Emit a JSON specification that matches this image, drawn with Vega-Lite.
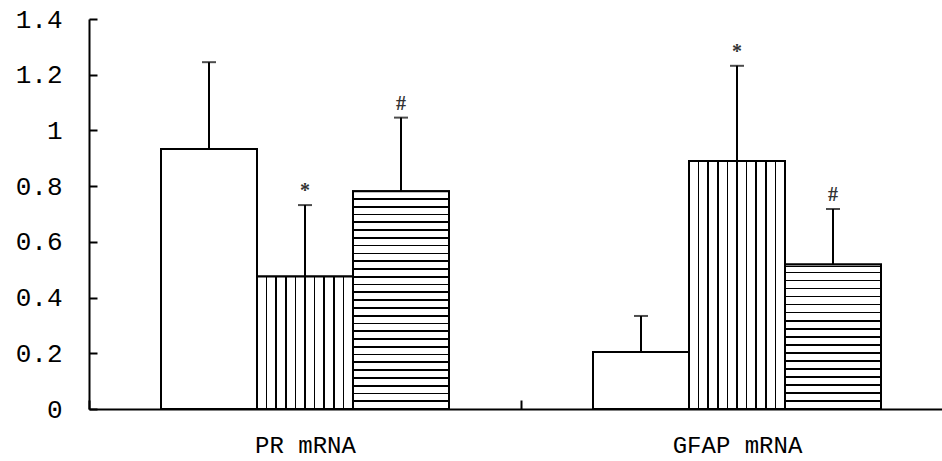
{
  "$schema": "https://vega.github.io/schema/vega-lite/v6.json",
  "width": 853,
  "height": 390,
  "autosize": {"type": "none"},
  "padding": {"left": 89, "top": 19, "right": 0, "bottom": 52},
  "background": "white",
  "config": {
    "view": {"stroke": null},
    "axis": {"domainColor": "black", "tickColor": "black", "labelColor": "black", "domainWidth": 2, "tickWidth": 2, "labelFont": "Liberation Mono", "grid": false}
  },
  "data": {
    "values": [
      {"gene": "PR mRNA", "group": "Control", "mean": 0.933, "upper": 1.245, "sig": ""},
      {"gene": "PR mRNA", "group": "Model", "mean": 0.476, "upper": 0.732, "sig": "*"},
      {"gene": "PR mRNA", "group": "Treatment", "mean": 0.782, "upper": 1.046, "sig": "#"},
      {"gene": "GFAP mRNA", "group": "Control", "mean": 0.205, "upper": 0.334, "sig": ""},
      {"gene": "GFAP mRNA", "group": "Model", "mean": 0.89, "upper": 1.232, "sig": "*"},
      {"gene": "GFAP mRNA", "group": "Treatment", "mean": 0.519, "upper": 0.718, "sig": "#"}
    ]
  },
  "encoding": {
    "x": {"field": "gene", "type": "nominal", "sort": ["PR mRNA", "GFAP mRNA"],
      "scale": {"range": [0, 864], "paddingInner": 0, "paddingOuter": 0},
      "axis": {"title": null, "labelAngle": 0, "tickBand": "extent", "tickSize": -9, "labelPadding": 45, "labelFontSize": 24, "labelBaseline": "middle"}},
    "xOffset": {"field": "group", "type": "nominal", "sort": ["Control", "Model", "Treatment"],
      "scale": {"domain": ["Control", "Model", "Treatment"], "paddingInner": 0, "paddingOuter": 0.75}}
  },
  "layer": [
    {
      "mark": {"type": "bar", "fill": "white", "stroke": "black", "strokeWidth": 2},
      "encoding": {
        "y": {"field": "mean", "type": "quantitative", "scale": {"domain": [0, 1.4], "nice": false},
          "axis": {"title": null, "values": [0, 0.2, 0.4, 0.6, 0.8, 1, 1.2, 1.4], "format": "~g", "tickSize": -8, "labelPadding": 35, "labelFontSize": 26}}
      }
    },
    {
      "transform": [{"filter": "datum.group === 'Model'"}],
      "mark": {"type": "bar", "stroke": "black", "strokeWidth": 2,
        "fill": {"gradient": "linear", "x1": 0, "y1": 0, "x2": 1, "y2": 0, "stops": [
          {"offset": 0, "color": "white"},
          {"offset": 0.092, "color": "white"}, {"offset": 0.092, "color": "black"}, {"offset": 0.108, "color": "black"}, {"offset": 0.108, "color": "white"},
          {"offset": 0.192, "color": "white"}, {"offset": 0.192, "color": "black"}, {"offset": 0.208, "color": "black"}, {"offset": 0.208, "color": "white"},
          {"offset": 0.292, "color": "white"}, {"offset": 0.292, "color": "black"}, {"offset": 0.308, "color": "black"}, {"offset": 0.308, "color": "white"},
          {"offset": 0.392, "color": "white"}, {"offset": 0.392, "color": "black"}, {"offset": 0.408, "color": "black"}, {"offset": 0.408, "color": "white"},
          {"offset": 0.492, "color": "white"}, {"offset": 0.492, "color": "black"}, {"offset": 0.508, "color": "black"}, {"offset": 0.508, "color": "white"},
          {"offset": 0.592, "color": "white"}, {"offset": 0.592, "color": "black"}, {"offset": 0.608, "color": "black"}, {"offset": 0.608, "color": "white"},
          {"offset": 0.692, "color": "white"}, {"offset": 0.692, "color": "black"}, {"offset": 0.708, "color": "black"}, {"offset": 0.708, "color": "white"},
          {"offset": 0.792, "color": "white"}, {"offset": 0.792, "color": "black"}, {"offset": 0.808, "color": "black"}, {"offset": 0.808, "color": "white"},
          {"offset": 0.892, "color": "white"}, {"offset": 0.892, "color": "black"}, {"offset": 0.908, "color": "black"}, {"offset": 0.908, "color": "white"},
          {"offset": 1, "color": "white"}
        ]}},
      "encoding": {"y": {"field": "mean", "type": "quantitative"}}
    },
    {
      "transform": [{"filter": "datum.group === 'Treatment' && datum.gene === 'PR mRNA'"}],
      "mark": {"type": "bar", "stroke": "black", "strokeWidth": 2,
        "fill": {"gradient": "linear", "x1": 0, "y1": 0, "x2": 0, "y2": 1, "stops": [
          {"offset": 0, "color": "white"},
          {"offset": 0.0317, "color": "white"}, {"offset": 0.0317, "color": "black"}, {"offset": 0.0397, "color": "black"}, {"offset": 0.0397, "color": "white"},
          {"offset": 0.0674, "color": "white"}, {"offset": 0.0674, "color": "black"}, {"offset": 0.0754, "color": "black"}, {"offset": 0.0754, "color": "white"},
          {"offset": 0.1031, "color": "white"}, {"offset": 0.1031, "color": "black"}, {"offset": 0.1111, "color": "black"}, {"offset": 0.1111, "color": "white"},
          {"offset": 0.1389, "color": "white"}, {"offset": 0.1389, "color": "black"}, {"offset": 0.1469, "color": "black"}, {"offset": 0.1469, "color": "white"},
          {"offset": 0.1746, "color": "white"}, {"offset": 0.1746, "color": "black"}, {"offset": 0.1826, "color": "black"}, {"offset": 0.1826, "color": "white"},
          {"offset": 0.2103, "color": "white"}, {"offset": 0.2103, "color": "black"}, {"offset": 0.2183, "color": "black"}, {"offset": 0.2183, "color": "white"},
          {"offset": 0.246, "color": "white"}, {"offset": 0.246, "color": "black"}, {"offset": 0.254, "color": "black"}, {"offset": 0.254, "color": "white"},
          {"offset": 0.2817, "color": "white"}, {"offset": 0.2817, "color": "black"}, {"offset": 0.2897, "color": "black"}, {"offset": 0.2897, "color": "white"},
          {"offset": 0.3174, "color": "white"}, {"offset": 0.3174, "color": "black"}, {"offset": 0.3254, "color": "black"}, {"offset": 0.3254, "color": "white"},
          {"offset": 0.3531, "color": "white"}, {"offset": 0.3531, "color": "black"}, {"offset": 0.3611, "color": "black"}, {"offset": 0.3611, "color": "white"},
          {"offset": 0.3889, "color": "white"}, {"offset": 0.3889, "color": "black"}, {"offset": 0.3969, "color": "black"}, {"offset": 0.3969, "color": "white"},
          {"offset": 0.4246, "color": "white"}, {"offset": 0.4246, "color": "black"}, {"offset": 0.4326, "color": "black"}, {"offset": 0.4326, "color": "white"},
          {"offset": 0.4603, "color": "white"}, {"offset": 0.4603, "color": "black"}, {"offset": 0.4683, "color": "black"}, {"offset": 0.4683, "color": "white"},
          {"offset": 0.496, "color": "white"}, {"offset": 0.496, "color": "black"}, {"offset": 0.504, "color": "black"}, {"offset": 0.504, "color": "white"},
          {"offset": 0.5317, "color": "white"}, {"offset": 0.5317, "color": "black"}, {"offset": 0.5397, "color": "black"}, {"offset": 0.5397, "color": "white"},
          {"offset": 0.5674, "color": "white"}, {"offset": 0.5674, "color": "black"}, {"offset": 0.5754, "color": "black"}, {"offset": 0.5754, "color": "white"},
          {"offset": 0.6031, "color": "white"}, {"offset": 0.6031, "color": "black"}, {"offset": 0.6111, "color": "black"}, {"offset": 0.6111, "color": "white"},
          {"offset": 0.6389, "color": "white"}, {"offset": 0.6389, "color": "black"}, {"offset": 0.6469, "color": "black"}, {"offset": 0.6469, "color": "white"},
          {"offset": 0.6746, "color": "white"}, {"offset": 0.6746, "color": "black"}, {"offset": 0.6826, "color": "black"}, {"offset": 0.6826, "color": "white"},
          {"offset": 0.7103, "color": "white"}, {"offset": 0.7103, "color": "black"}, {"offset": 0.7183, "color": "black"}, {"offset": 0.7183, "color": "white"},
          {"offset": 0.746, "color": "white"}, {"offset": 0.746, "color": "black"}, {"offset": 0.754, "color": "black"}, {"offset": 0.754, "color": "white"},
          {"offset": 0.7817, "color": "white"}, {"offset": 0.7817, "color": "black"}, {"offset": 0.7897, "color": "black"}, {"offset": 0.7897, "color": "white"},
          {"offset": 0.8174, "color": "white"}, {"offset": 0.8174, "color": "black"}, {"offset": 0.8254, "color": "black"}, {"offset": 0.8254, "color": "white"},
          {"offset": 0.8531, "color": "white"}, {"offset": 0.8531, "color": "black"}, {"offset": 0.8611, "color": "black"}, {"offset": 0.8611, "color": "white"},
          {"offset": 0.8889, "color": "white"}, {"offset": 0.8889, "color": "black"}, {"offset": 0.8969, "color": "black"}, {"offset": 0.8969, "color": "white"},
          {"offset": 0.9246, "color": "white"}, {"offset": 0.9246, "color": "black"}, {"offset": 0.9326, "color": "black"}, {"offset": 0.9326, "color": "white"},
          {"offset": 0.9603, "color": "white"}, {"offset": 0.9603, "color": "black"}, {"offset": 0.9683, "color": "black"}, {"offset": 0.9683, "color": "white"},
          {"offset": 1, "color": "white"}
        ]}},
      "encoding": {"y": {"field": "mean", "type": "quantitative"}}
    },
    {
      "transform": [{"filter": "datum.group === 'Treatment' && datum.gene === 'GFAP mRNA'"}],
      "mark": {"type": "bar", "stroke": "black", "strokeWidth": 2,
        "fill": {"gradient": "linear", "x1": 0, "y1": 0, "x2": 0, "y2": 1, "stops": [
          {"offset": 0, "color": "white"},
          {"offset": 0.008, "color": "white"}, {"offset": 0.008, "color": "black"}, {"offset": 0.018, "color": "black"}, {"offset": 0.018, "color": "white"},
          {"offset": 0.0496, "color": "white"}, {"offset": 0.0496, "color": "black"}, {"offset": 0.0616, "color": "black"}, {"offset": 0.0616, "color": "white"},
          {"offset": 0.1051, "color": "white"}, {"offset": 0.1051, "color": "black"}, {"offset": 0.1171, "color": "black"}, {"offset": 0.1171, "color": "white"},
          {"offset": 0.1607, "color": "white"}, {"offset": 0.1607, "color": "black"}, {"offset": 0.1727, "color": "black"}, {"offset": 0.1727, "color": "white"},
          {"offset": 0.2162, "color": "white"}, {"offset": 0.2162, "color": "black"}, {"offset": 0.2282, "color": "black"}, {"offset": 0.2282, "color": "white"},
          {"offset": 0.2718, "color": "white"}, {"offset": 0.2718, "color": "black"}, {"offset": 0.2838, "color": "black"}, {"offset": 0.2838, "color": "white"},
          {"offset": 0.3273, "color": "white"}, {"offset": 0.3273, "color": "black"}, {"offset": 0.3393, "color": "black"}, {"offset": 0.3393, "color": "white"},
          {"offset": 0.3829, "color": "white"}, {"offset": 0.3829, "color": "black"}, {"offset": 0.3949, "color": "black"}, {"offset": 0.3949, "color": "white"},
          {"offset": 0.4384, "color": "white"}, {"offset": 0.4384, "color": "black"}, {"offset": 0.4504, "color": "black"}, {"offset": 0.4504, "color": "white"},
          {"offset": 0.494, "color": "white"}, {"offset": 0.494, "color": "black"}, {"offset": 0.506, "color": "black"}, {"offset": 0.506, "color": "white"},
          {"offset": 0.5496, "color": "white"}, {"offset": 0.5496, "color": "black"}, {"offset": 0.5616, "color": "black"}, {"offset": 0.5616, "color": "white"},
          {"offset": 0.6051, "color": "white"}, {"offset": 0.6051, "color": "black"}, {"offset": 0.6171, "color": "black"}, {"offset": 0.6171, "color": "white"},
          {"offset": 0.6607, "color": "white"}, {"offset": 0.6607, "color": "black"}, {"offset": 0.6727, "color": "black"}, {"offset": 0.6727, "color": "white"},
          {"offset": 0.7162, "color": "white"}, {"offset": 0.7162, "color": "black"}, {"offset": 0.7282, "color": "black"}, {"offset": 0.7282, "color": "white"},
          {"offset": 0.7718, "color": "white"}, {"offset": 0.7718, "color": "black"}, {"offset": 0.7838, "color": "black"}, {"offset": 0.7838, "color": "white"},
          {"offset": 0.8273, "color": "white"}, {"offset": 0.8273, "color": "black"}, {"offset": 0.8393, "color": "black"}, {"offset": 0.8393, "color": "white"},
          {"offset": 0.8829, "color": "white"}, {"offset": 0.8829, "color": "black"}, {"offset": 0.8949, "color": "black"}, {"offset": 0.8949, "color": "white"},
          {"offset": 0.9384, "color": "white"}, {"offset": 0.9384, "color": "black"}, {"offset": 0.9504, "color": "black"}, {"offset": 0.9504, "color": "white"},
          {"offset": 1, "color": "white"}
        ]}},
      "encoding": {"y": {"field": "mean", "type": "quantitative"}}
    },
    {
      "mark": {"type": "rule", "color": "black", "strokeWidth": 2},
      "encoding": {
        "y": {"field": "mean", "type": "quantitative"},
        "y2": {"field": "upper"}
      }
    },
    {
      "mark": {"type": "tick", "color": "black", "size": 14, "thickness": 2, "orient": "horizontal"},
      "encoding": {"y": {"field": "upper", "type": "quantitative"}}
    },
    {
      "mark": {"type": "text", "font": "Liberation Serif", "fontSize": 20, "fontWeight": "bold", "dy": -14, "baseline": "middle", "color": "#333"},
      "encoding": {
        "y": {"field": "upper", "type": "quantitative"},
        "text": {"field": "sig"}
      }
    }
  ]
}
